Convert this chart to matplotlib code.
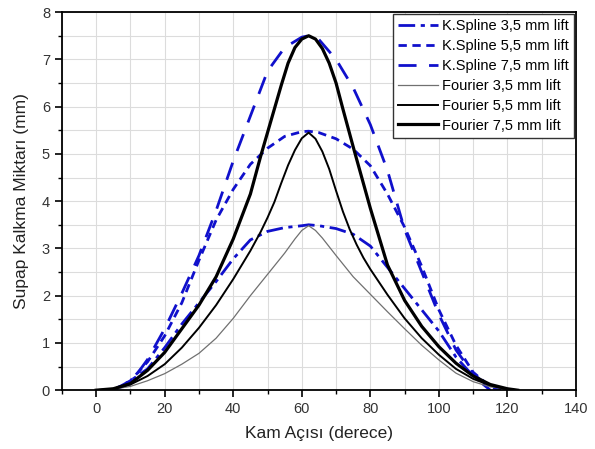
import numpy as np
import matplotlib.pyplot as plt
from matplotlib.ticker import MultipleLocator

plt.rcParams['font.family'] = ['Liberation Sans', 'DejaVu Sans']

# K.Spline curves (cam angle in degrees, lift in mm)
ks35_x = [5, 10, 15, 20, 25, 30, 35, 40, 45, 50, 55, 60, 62, 65, 70, 75, 80, 85, 90, 95, 100, 105, 110, 115]
ks35_y = [0.0, 0.2, 0.45, 0.9, 1.4, 1.85, 2.3, 2.78, 3.18, 3.36, 3.44, 3.48, 3.5, 3.48, 3.42, 3.3, 3.05, 2.6, 2.15, 1.7, 1.25, 0.7, 0.3, 0.0]

ks55_x = [5, 10, 15, 20, 25, 30, 35, 40, 45, 50, 55, 60, 62, 65, 70, 75, 80, 85, 90, 95, 100, 105, 110, 115, 118]
ks55_y = [0.0, 0.2, 0.6, 1.15, 1.85, 2.75, 3.6, 4.25, 4.78, 5.12, 5.37, 5.47, 5.48, 5.45, 5.32, 5.1, 4.75, 4.15, 3.45, 2.62, 1.7, 0.95, 0.38, 0.07, 0.0]

ks75_x = [5, 10, 15, 20, 25, 30, 35, 40, 45, 50, 55, 60, 62, 65, 70, 75, 80, 85, 90, 95, 100, 105, 110, 115, 118]
ks75_y = [0.0, 0.15, 0.65, 1.3, 2.05, 2.85, 3.8, 4.85, 5.8, 6.75, 7.25, 7.47, 7.5, 7.42, 7.0, 6.4, 5.62, 4.65, 3.4, 2.5, 1.6, 0.85, 0.35, 0.05, 0.0]

# Fourier curves
fo35_x = [0, 5, 10, 15, 20, 25, 30, 35, 40, 45, 50, 55, 58, 60, 62, 64, 66, 70, 75, 80, 85, 90, 95, 100, 105, 110, 115, 120, 123]
fo35_y = [0.0, 0.02, 0.08, 0.2, 0.35, 0.55, 0.78, 1.1, 1.52, 2.0, 2.45, 2.9, 3.2, 3.38, 3.48, 3.38, 3.22, 2.85, 2.4, 2.03, 1.66, 1.3, 0.95, 0.64, 0.36, 0.18, 0.07, 0.02, 0.0]

fo55_x = [0, 5, 10, 15, 20, 25, 30, 35, 40, 45, 48, 50, 52, 54, 56, 58, 60, 62, 64, 66, 68, 70, 72, 74, 76, 78, 80, 85, 90, 95, 100, 105, 110, 115, 120, 123]
fo55_y = [0.0, 0.03, 0.12, 0.3, 0.55, 0.9, 1.32, 1.8, 2.35, 2.95, 3.35, 3.65, 3.98, 4.38, 4.76, 5.08, 5.33, 5.45, 5.32, 5.05, 4.68, 4.22, 3.78, 3.4, 3.08, 2.8, 2.56, 2.02, 1.52, 1.1, 0.75, 0.45, 0.24, 0.1, 0.02, 0.0]

fo75_x = [0, 5, 10, 15, 20, 25, 30, 35, 40, 45, 48, 50, 52, 54, 56, 58, 60, 62, 64, 66, 68, 70, 72, 75, 80, 85, 90, 95, 100, 105, 110, 115, 120, 123]
fo75_y = [0.0, 0.03, 0.14, 0.42, 0.8, 1.3, 1.8, 2.4, 3.2, 4.15, 4.95, 5.45, 5.95, 6.45, 6.92, 7.25, 7.43, 7.5, 7.43, 7.23, 6.92, 6.5, 5.95, 5.15, 3.85, 2.65, 1.9, 1.35, 0.92, 0.57, 0.3, 0.12, 0.03, 0.0]

blue = '#1010cc'

fig = plt.figure(figsize=(5.95, 4.49), dpi=100)
ax = fig.add_axes([0.104, 0.131, 0.864, 0.842])

ax.plot(ks35_x, ks35_y, color=blue, lw=2.0, dashes=(6, 2, 1.5, 2), label='K.Spline 3,5 mm lift')
ax.plot(ks55_x, ks55_y, color=blue, lw=2.0, dashes=(3, 2), label='K.Spline 5,5 mm lift')
ax.plot(ks75_x, ks75_y, color=blue, lw=2.0, dashes=(6.5, 4.5), label='K.Spline 7,5 mm lift')
ax.plot(fo35_x, fo35_y, color='#707070', lw=0.9, label='Fourier 3,5 mm lift')
ax.plot(fo55_x, fo55_y, color='black', lw=1.4, label='Fourier 5,5 mm lift')
ax.plot(fo75_x, fo75_y, color='black', lw=2.3, label='Fourier 7,5 mm lift')

ax.set_xlim(-10, 140)
ax.set_ylim(0, 8)
ax.xaxis.set_major_locator(MultipleLocator(20))
ax.xaxis.set_minor_locator(MultipleLocator(10))
ax.yaxis.set_major_locator(MultipleLocator(1))
ax.yaxis.set_minor_locator(MultipleLocator(0.5))
ax.grid(which='both', color='#dcdcdc', lw=0.8)
ax.set_axisbelow(True)
ax.tick_params(which='major', direction='out', length=5, width=1.2, labelsize=10.5, labelcolor='#333333')
ax.tick_params(which='minor', direction='out', length=3, width=1.0)
for s in ax.spines.values():
    s.set_linewidth(1.3)

ax.set_xlabel('Kam Açısı (derece)', fontsize=12.5, color='#222222', labelpad=7)
ax.set_ylabel('Supap Kalkma Miktarı (mm)', fontsize=12.5, color='#222222', labelpad=9)

leg = ax.legend(loc='upper right', fontsize=10.5, frameon=True, fancybox=False,
                edgecolor='#333333', framealpha=1, borderaxespad=0.15,
                handlelength=2.7, handletextpad=0.3, labelspacing=0.4, borderpad=0.35)
leg.get_frame().set_linewidth(1.0)

fig.savefig('out.png', dpi=100)
